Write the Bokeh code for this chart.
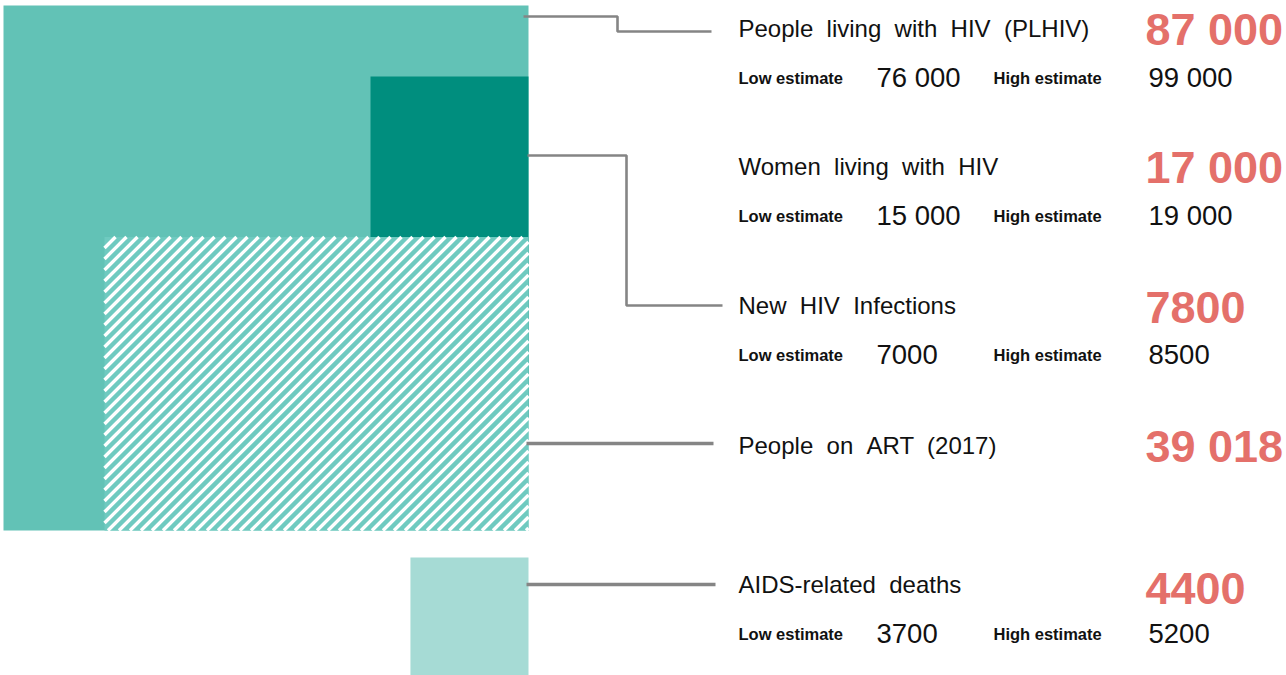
import math
from bokeh.plotting import figure
from bokeh.models import Range1d
from bokeh.core.properties import value
from bokeh.embed import file_html
from bokeh.resources import INLINE

# ---------------- data ----------------
labels = ["People  living  with  HIV  (PLHIV)", "Women  living  with  HIV",
          "New  HIV  Infections", "People  on  ART  (2017)", "AIDS-related  deaths"]
central = [87000, 17000, 7800, 39018, 4400]
low = [76000, 15000, 7000, None, 3700]
high = [99000, 19000, 8500, None, 5200]
low_label = "Low estimate"
high_label = "High estimate"


def fmt(v):
    return f"{v:,}".replace(",", " ") if v >= 10000 else str(v)


def keep_spaces(s):
    return s.replace("  ", " \u00a0")


# ---------------- layout ----------------
W, H = 1286, 675
p = figure(width=W, height=H, output_backend="svg", toolbar_location=None,
           x_range=Range1d(0, W), y_range=Range1d(H, 0), min_border=0)
p.axis.visible = False
p.grid.visible = False
p.outline_line_color = None
p.background_fill_color = "white"
p.styles = {"margin": "0px"}

# area scale: PLHIV square side in px
big_side = 525.0
k = big_side / math.sqrt(central[0])
right = 528.0
top = 5.0
bottom = top + big_side

# PLHIV square
p.quad(left=[right - big_side], right=[right], top=[top], bottom=[bottom],
       fill_color="#62C2B6", line_color=None)

# Women rectangle (anchored right, partly hidden behind ART block)
w_width = 158.0
w_area = k * k * central[1]
w_top = 76.0
p.quad(left=[right - w_width], right=[right], top=[w_top], bottom=[w_top + w_area / w_width],
       fill_color="#008E7E", line_color=None)

# People on ART (hatched), anchored bottom-right
art_width = 424.0
art_area = k * k * central[3]
art_h = art_area / art_width
L, R, T, B = right - art_width, right, bottom - art_h - 2, bottom
p.quad(left=[L], right=[R], top=[T], bottom=[B], fill_color="#6FCAC0", line_color=None)

# 45-degree white hatch stripes clipped to the ART block
period = 11.0
x0s, y0s, x1s, y1s = [], [], [], []
c = L + T - period
while c <= R + B + period:
    xa = max(L, c - B)
    xb = min(R, c - T)
    if xb > xa:
        x0s.append(xa); y0s.append(c - xa)
        x1s.append(xb); y1s.append(c - xb)
    c += period
p.segment(x0=x0s, y0=y0s, x1=x1s, y1=y1s, line_color="white", line_width=3.3, line_cap="butt")

# AIDS-related deaths square
d_side = k * math.sqrt(central[4])
d_top = 557.0
p.quad(left=[right - d_side], right=[right], top=[d_top], bottom=[d_top + d_side],
       fill_color="#A6DBD5", line_color=None)

# connectors
gray = "#858585"
p.line([523, 617, 617, 711], [16, 16, 31, 31], line_color=gray, line_width=2.6)
p.line([527, 626, 626, 722], [155, 155, 305, 305], line_color=gray, line_width=2.6)
p.line([526, 713], [443, 443], line_color=gray, line_width=3.5)
p.line([526, 715], [584, 584], line_color=gray, line_width=3.5)

# texts
label_y = [28, 166, 305, 445, 584]
num_y = [29, 167, 307, 446, 588]
est_off = 49
x_label = 738
x_num = 1145
x_low_lab = 738
x_low = 876
x_high_lab = 993
x_high = 1148

p.text(x=[x_label] * 5, y=label_y, text=[keep_spaces(s) for s in labels],
       text_font=value("Liberation Sans"),
       text_font_size="24px", text_color="#111111", text_baseline="middle", text_align="left")
p.text(x=[x_num] * 5, y=num_y, text=[fmt(v) for v in central], text_font=value("Liberation Sans"),
       text_font_size="45px", text_font_style="bold", text_color="#E4706A",
       text_baseline="middle", text_align="left")

rows = [i for i in range(5) if low[i] is not None]
est_y = [label_y[i] + est_off for i in rows]
p.text(x=[x_low_lab] * len(rows), y=est_y, text=[low_label] * len(rows),
       text_font=value("Liberation Sans"), text_font_size="16.5px",
       text_font_style="bold", text_color="#111111", text_baseline="middle")
p.text(x=[x_high_lab] * len(rows), y=est_y, text=[high_label] * len(rows),
       text_font=value("Liberation Sans"), text_font_size="16.5px",
       text_font_style="bold", text_color="#111111", text_baseline="middle")
p.text(x=[x_low] * len(rows), y=est_y, text=[fmt(low[i]) for i in rows],
       text_font=value("Liberation Sans"), text_font_size="27.5px", text_color="#111111",
       text_baseline="middle")
p.text(x=[x_high] * len(rows), y=est_y, text=[fmt(high[i]) for i in rows],
       text_font=value("Liberation Sans"), text_font_size="27.5px", text_color="#111111",
       text_baseline="middle")

open("out.html", "w").write(file_html(p, INLINE))
